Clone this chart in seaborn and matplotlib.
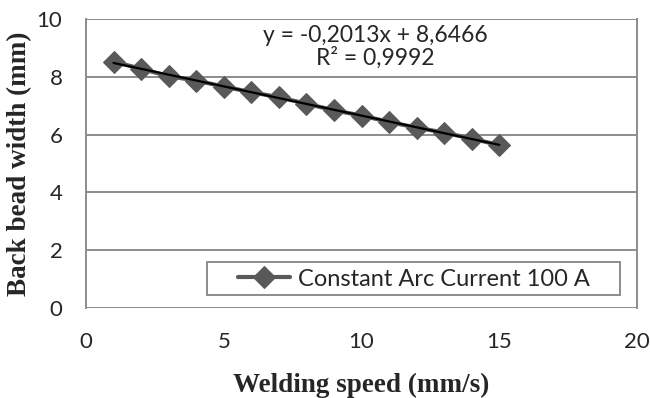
import numpy as np
import pandas as pd
import matplotlib
matplotlib.use("Agg")
import matplotlib.pyplot as plt
from matplotlib.patches import Rectangle
import seaborn as sns

speed = [1, 2, 3, 4, 5, 6, 7, 8, 9, 10, 11, 12, 13, 14, 15]
width = [8.52, 8.28, 8.02, 7.87, 7.66, 7.47, 7.29, 7.07, 6.84, 6.66, 6.44, 6.24, 6.07, 5.86, 5.64]
series_name = "Constant Arc Current 100 A"
eq_text = "y = -0,2013x + 8,6466"
r2_text = "R² = 0,9992"
xticks = [0, 5, 10, 15, 20]
yticks = [0, 2, 4, 6, 8, 10]

sns.set_theme(style="white")
plt.rcParams['font.family'] = ['Lato', 'DejaVu Sans']

df = pd.DataFrame({"speed": speed, "width": width, "series": series_name})

grid_c = "#8c8c8c"
mark_c = "#595959"

fig = plt.figure(figsize=(6.5, 3.98), dpi=100)
ax = fig.add_axes([86 / 650, 90 / 398, 551 / 650, 289 / 398])

for y in yticks:
    ax.axhline(y, color=grid_c, lw=1.4, zorder=0)

sns.lineplot(data=df, x="speed", y="width", hue="series", palette=[mark_c],
             marker="D", markersize=11, markeredgecolor=mark_c, lw=3, ax=ax, zorder=2)

coef = np.polyfit(speed, width, 1)
xs = np.array([speed[0], speed[-1]])
ax.plot(xs, np.polyval(coef, xs), color="black", lw=1.6, zorder=3)

ax.text(10.5, 9.42, eq_text, ha="center", va="center", fontsize=16.5)
ax.text(10.5, 8.66, r2_text, ha="center", va="center", fontsize=16.5)

ax.set_xlim(0, 20)
ax.set_ylim(0, 10)
ax.set_xticks(xticks)
ax.set_yticks(yticks)
ax.tick_params(axis="both", labelsize=16, length=0, pad=17)
for s in ["top", "bottom"]:
    ax.spines[s].set_visible(False)
for s in ["left", "right"]:
    ax.spines[s].set_color(grid_c)
    ax.spines[s].set_linewidth(1.4)

ax.set_xlabel("Welding speed (mm/s)", fontsize=19.5, fontweight="bold", family="Liberation Serif")
ax.set_ylabel("Back bead width (mm)", fontsize=19.5, fontweight="bold", family="Liberation Serif")
ax.xaxis.set_label_coords(0.5, -0.225)
ax.yaxis.set_label_coords(-0.098, 0.5)

# legend box
ax.add_patch(Rectangle((121 / 551, 13 / 289), 413 / 551, 33 / 289, transform=ax.transAxes,
                       facecolor="white", edgecolor=grid_c, lw=1.4, zorder=4))
leg = ax.legend(loc="center left", bbox_to_anchor=(152 / 551, 29 / 289), fontsize=17,
                frameon=False, handlelength=2.2, handletextpad=0.35, borderpad=0,
                borderaxespad=0)
leg.set_zorder(5)

fig.savefig("out.png", dpi=100)
